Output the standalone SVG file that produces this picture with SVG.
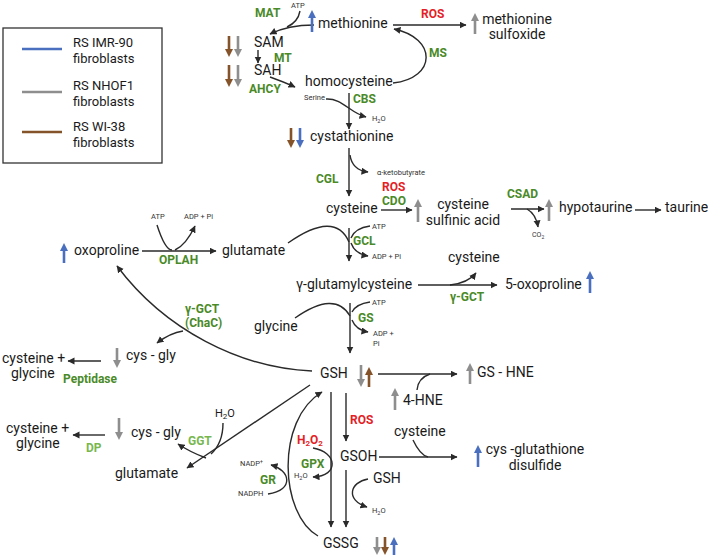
<svg xmlns="http://www.w3.org/2000/svg" width="708" height="558" viewBox="0 0 708 558">
<defs>
<style>
text{font-family:Roboto,"Liberation Sans",Arial,sans-serif;font-size:14px;fill:#1a1a1a}
.s{font-size:7.5px;fill:#333}
.m{font-size:11px}
.g{font-weight:bold;font-size:12px;fill:#4a8a28}
.lg{font-weight:bold;font-size:12px;fill:#78b74f}
.r{font-weight:bold;font-size:12px;fill:#e41e26}
.c{fill:none;stroke:#2a2a2a;stroke-width:1.4}
.ca{fill:none;stroke:#2a2a2a;stroke-width:1.4;marker-end:url(#ah)}
.ub{fill:none;stroke:#4a6fbf;stroke-width:2.6;marker-end:url(#mB)}
.ug{fill:none;stroke:#8e8e8e;stroke-width:2.6;marker-end:url(#mG)}
.ur{fill:none;stroke:#85532a;stroke-width:2.6;marker-end:url(#mR)}
</style>
<marker id="ah" markerUnits="userSpaceOnUse" markerWidth="8" markerHeight="8" refX="6.5" refY="3.5" orient="auto"><path d="M0,0 L7,3.5 L0,7 z" fill="#2a2a2a"/></marker>
<marker id="mB" markerUnits="userSpaceOnUse" markerWidth="9" markerHeight="9" refX="2" refY="4" orient="auto"><path d="M0,0 L8,4 L0,8 z" fill="#4a6fbf"/></marker>
<marker id="mG" markerUnits="userSpaceOnUse" markerWidth="9" markerHeight="9" refX="2" refY="4" orient="auto"><path d="M0,0 L8,4 L0,8 z" fill="#8e8e8e"/></marker>
<marker id="mR" markerUnits="userSpaceOnUse" markerWidth="9" markerHeight="9" refX="2" refY="4" orient="auto"><path d="M0,0 L8,4 L0,8 z" fill="#85532a"/></marker>
</defs>
<rect width="708" height="558" fill="#fff"/>

<!-- legend -->
<g id="legend">
<rect x="3" y="28" width="159" height="135" fill="none" stroke="#333" stroke-width="1.3"/>
<line x1="22" y1="49" x2="62" y2="49" stroke="#4a6fbf" stroke-width="2.5"/>
<line x1="22" y1="92" x2="62" y2="92" stroke="#8e8e8e" stroke-width="2.5"/>
<line x1="22" y1="132" x2="62" y2="132" stroke="#85532a" stroke-width="2.5"/>
<text x="73" y="47" style="font-size:13px">RS IMR-90</text>
<text x="73" y="63" style="font-size:13px">fibroblasts</text>
<text x="73" y="90" style="font-size:13px">RS NHOF1</text>
<text x="73" y="106" style="font-size:13px">fibroblasts</text>
<text x="73" y="131" style="font-size:13px">RS WI-38</text>
<text x="73" y="147" style="font-size:13px">fibroblasts</text>
</g>

<!-- connectors -->
<g id="connectors">
<path class="ca" d="M314,25 Q288,25 270,34"/>
<path class="c" d="M300,11 Q298,22 287,27"/>
<path class="ca" d="M258,50 V63"/>
<path class="ca" d="M270,77 Q284,82 295,87"/>
<path class="ca" d="M393,83 C437,78 437,38 394,29"/>
<path class="ca" d="M393,25 H466"/>
<path class="ca" d="M349,93 V129"/>
<path class="ca" d="M326,99 C342,98 350,113 366,117"/>
<path class="ca" d="M349,148 V196"/>
<path class="ca" d="M350,155 Q352,170 368,172"/>
<path class="ca" d="M381,210 H412"/>
<path class="ca" d="M511,209 H544"/>
<path class="ca" d="M527,209 Q536,214 538,227"/>
<path class="ca" d="M635,210 H661"/>
<path class="ca" d="M142,251 H216"/>
<path class="c" d="M157,225 Q165,250 172,250"/>
<path class="ca" d="M175,250 Q186,245 195,226"/>
<path class="c" d="M288,243 Q335,210 349,242"/>
<path class="ca" d="M349,228 V261"/>
<path class="c" d="M351,238 Q355,228 370,226"/>
<path class="ca" d="M351,243 Q355,254 368,256"/>
<path class="ca" d="M418,285 H497"/>
<path class="ca" d="M450,285 Q468,283 476,273"/>
<path class="c" d="M295,318 Q335,290 350,316"/>
<path class="ca" d="M350,303 V353"/>
<path class="c" d="M352,312 Q356,304 370,302"/>
<path class="ca" d="M352,320 Q356,330 368,332"/>
<path class="ca" d="M312,371 C240,368 165,330 117,266"/>
<path class="ca" d="M183,331 Q170,333 157,343"/>
<path class="ca" d="M101,361 H68"/>
<path class="ca" d="M105,435 H73"/>
<path class="ca" d="M310,385 L187,468"/>
<path class="c" d="M223,423 Q223,443 211,454"/>
<path class="ca" d="M206,458 Q190,452 178,444"/>
<path class="ca" d="M378,374 H457"/>
<path class="c" d="M417,390 Q418,378 430,374"/>
<path class="ca" d="M331,392 V527"/>
<path class="ca" d="M346,393 V441"/>
<path class="ca" d="M379,457 H457"/>
<path class="c" d="M413,440 Q420,455 428,457"/>
<path class="ca" d="M346,470 V527"/>
<path class="ca" d="M368,479 C350,482 345,500 367,507"/>
<path class="ca" d="M318,536 C280,515 275,420 322,392"/>
<path class="ca" d="M268,494 C295,490 290,470 271,465"/>
<path class="ca" d="M313,448 C337,452 340,476 313,477"/>
</g>

<!-- methionine cycle -->
<g id="methionine">
<path class="ub" d="M312,32 V16"/>
<text x="318" y="28">methionine</text>
<text class="s" x="291" y="8">ATP</text>
<text class="g" x="255" y="17">MAT</text>
</g>
<g id="sam">
<path class="ur" d="M229,36 V51"/>
<path class="ug" d="M238,36 V51"/>
<text x="254" y="47">SAM</text>
<text class="g" x="274" y="62">MT</text>
</g>
<g id="sah">
<path class="ur" d="M229,65 V81"/>
<path class="ug" d="M238,65 V81"/>
<text x="254" y="75">SAH</text>
<text class="g" x="249" y="93">AHCY</text>
</g>
<g id="homocysteine">
<text x="305" y="86">homocysteine</text>
<text class="g" x="429" y="57">MS</text>
<text class="g" x="353" y="103">CBS</text>
<text class="s" x="304" y="100">Serine</text>
<text class="s" x="372" y="121">H<tspan font-size="5.5" dy="1.5">2</tspan><tspan dy="-1.5">O</tspan></text>
</g>
<g id="met-sulfoxide">
<text class="r" x="421" y="18">ROS</text>
<path class="ug" d="M475,34 V19"/>
<text x="517" y="24" text-anchor="middle">methionine</text>
<text x="517" y="39" text-anchor="middle">sulfoxide</text>
</g>
<g id="cystathionine">
<path class="ur" d="M291,128 V142"/>
<path class="ub" d="M300,128 V142"/>
<text x="310" y="141">cystathionine</text>
<text class="s" x="377" y="175">α-ketobutyrate</text>
<text class="g" x="316" y="183">CGL</text>
</g>

<!-- cysteine branch -->
<g id="cysteine">
<text x="326" y="213">cysteine</text>
<text class="r" x="382" y="191">ROS</text>
<text class="g" x="382" y="205">CDO</text>
</g>
<g id="cysteine-sulfinic-acid">
<path class="ug" d="M418,222 V205"/>
<text x="463" y="209" text-anchor="middle">cysteine</text>
<text x="463" y="225" text-anchor="middle">sulfinic acid</text>
<text class="g" x="507" y="198">CSAD</text>
<text class="s" x="532" y="237" style="font-size:7px">CO<tspan font-size="5" dy="1.5">2</tspan></text>
</g>
<g id="hypotaurine">
<path class="ug" d="M549,221 V205"/>
<text x="559" y="212">hypotaurine</text>
</g>
<g id="taurine"><text x="665" y="212">taurine</text></g>

<!-- glutamate / oxoproline -->
<g id="oxoproline">
<path class="ub" d="M64,263 V249"/>
<text x="74" y="255">oxoproline</text>
<text class="s" x="151" y="219">ATP</text>
<text class="s" x="184" y="219">ADP + Pi</text>
<text class="g" x="159" y="264">OPLAH</text>
</g>
<g id="glutamate"><text x="222" y="255">glutamate</text></g>
<g id="gcl">
<text class="s" x="372" y="229">ATP</text>
<text class="g" x="353" y="245">GCL</text>
<text class="s" x="372" y="259">ADP + Pi</text>
</g>
<g id="gamma-glutamylcysteine">
<text x="296" y="289">γ-glutamylcysteine</text>
<text x="448" y="262">cysteine</text>
<text class="g" x="450" y="301">γ-GCT</text>
</g>
<g id="five-oxoproline">
<text x="505" y="289">5-oxoproline</text>
<path class="ub" d="M590,293 V277"/>
</g>
<g id="glycine">
<text x="254" y="331">glycine</text>
<text class="s" x="372" y="305">ATP</text>
<text class="g" x="358" y="322">GS</text>
<text class="s" x="373" y="336">ADP +</text>
<text class="s" x="373" y="346">Pi</text>
</g>

<!-- glutathione -->
<g id="gsh">
<text x="320" y="378">GSH</text>
<path class="ug" d="M361,365 V381"/>
<path class="ur" d="M369,387 V373"/>
</g>
<g id="chac">
<text class="g" x="185" y="313">γ-GCT</text>
<text class="g" x="185" y="327">(ChaC)</text>
</g>
<g id="cys-gly-1">
<path class="ug" d="M117,348 V362"/>
<text x="126" y="360">cys - gly</text>
</g>
<g id="cys-gly-products-1">
<text x="2" y="363">cysteine +</text>
<text x="11" y="378">glycine</text>
<text class="g" x="63" y="383">Peptidase</text>
</g>
<g id="cys-gly-2">
<path class="ug" d="M119,418 V434"/>
<text x="131" y="437">cys - gly</text>
<text class="lg" x="188" y="445">GGT</text>
<text class="m" x="215" y="417">H<tspan font-size="8" dy="2">2</tspan><tspan dy="-2">O</tspan></text>
</g>
<g id="cys-gly-products-2">
<text x="6" y="433">cysteine +</text>
<text x="16" y="448">glycine</text>
<text class="lg" x="86" y="452">DP</text>
</g>
<g id="glutamate-2"><text x="115" y="478">glutamate</text></g>
<g id="gs-hne">
<path class="ug" d="M395,410 V394"/>
<text x="403" y="405">4-HNE</text>
<path class="ug" d="M470,384 V369"/>
<text x="477" y="377">GS - HNE</text>
</g>
<g id="gsoh">
<text class="r" x="350" y="424">ROS</text>
<text x="340" y="461">GSOH</text>
<text x="394" y="436">cysteine</text>
<text x="373" y="483">GSH</text>
<text class="s" x="372" y="513">H<tspan font-size="5.5" dy="1.5">2</tspan><tspan dy="-1.5">O</tspan></text>
</g>
<g id="cys-glutathione-disulfide">
<path class="ub" d="M478,467 V451"/>
<text x="535" y="454" text-anchor="middle">cys -glutathione</text>
<text x="535" y="470" text-anchor="middle">disulfide</text>
</g>
<g id="gpx">
<text class="r" x="297" y="444">H<tspan font-size="8" dy="2">2</tspan><tspan dy="-2">O</tspan><tspan font-size="8" dy="2">2</tspan></text>
<text class="g" x="301" y="468">GPX</text>
<text class="s" x="294" y="478">H<tspan font-size="5.5" dy="1.5">2</tspan><tspan dy="-1.5">O</tspan></text>
</g>
<g id="gr">
<text class="s" x="240" y="466">NADP<tspan font-size="5" dy="-3">+</tspan></text>
<text class="g" x="260" y="484">GR</text>
<text class="s" x="238" y="496">NADPH</text>
</g>
<g id="gssg">
<text x="323" y="548">GSSG</text>
<path class="ug" d="M377,537 V549"/>
<path class="ur" d="M385,537 V549"/>
<path class="ub" d="M394,555 V543"/>
</g>
</svg>
